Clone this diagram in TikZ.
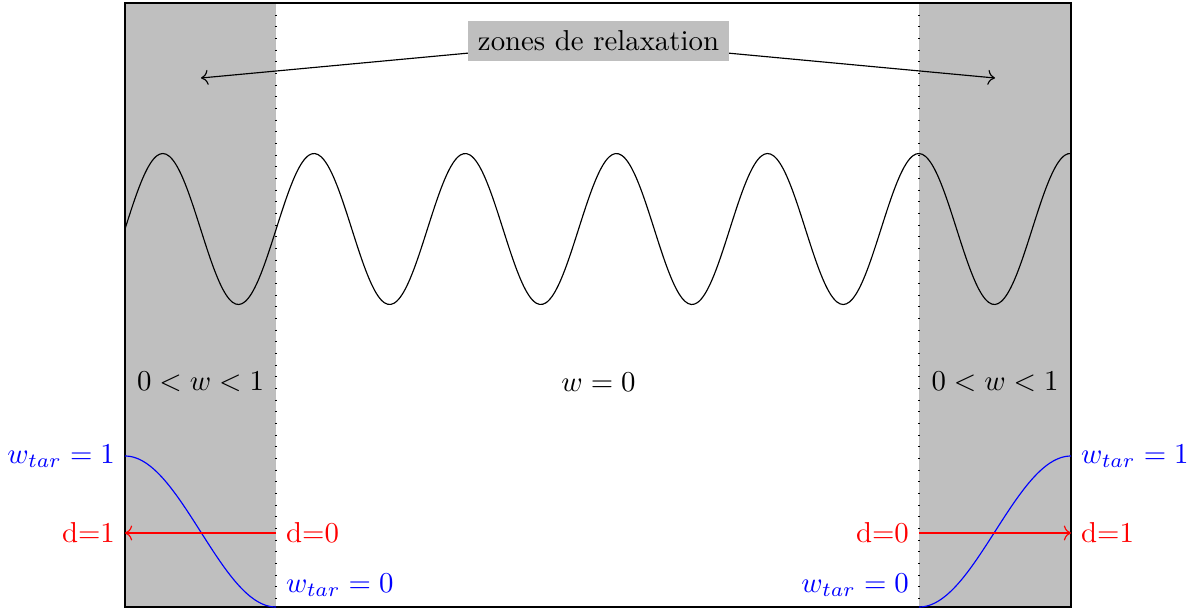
\documentclass[tikz,border=0pt]{standalone}
\usepackage{xcolor}
\usepackage{tikz}
\usetikzlibrary{arrows.meta, positioning}

\begin{document}
\begin{tikzpicture}[
    x=0.3472pt, y=-0.3472pt,
    zone/.style={fill=lightgray},
    limit/.style={dash pattern=on 0.4pt off 3.65pt},
    arr/.style={->},
    tag/.style={fill=lightgray},
]
\useasboundingbox (0,0) rectangle (1196,613);

\fill[zone] (125,3) rectangle (276,607);
\fill[zone] (919,3) rectangle (1071,607);
\draw[limit] (276,3) -- (276,607);
\draw[limit] (919,3) -- (919,607);

\draw plot[domain=125:1071, samples=300, smooth] (\x, {229 - 75.5*sin((\x-125)/151.2*360)});

\draw (125,3) rectangle (1071,607);

\node[tag] (relax) at (598.5,41) {zones de relaxation};
\coordinate (zleft) at (201,78);
\coordinate (zright) at (995,78);
\draw[arr] (relax) -- (zleft);
\draw[arr] (relax) -- (zright);

\node (wleft) at (200.5,382) {$0<w<1$};
\node (wmid) at (598.5,382) {$w=0$};
\node (wright) at (995,382) {$0<w<1$};

\draw[blue] plot[domain=125:276, samples=80, smooth] (\x, {456 + 75.5*(1-cos((\x-125)/151*180))});
\draw[blue] plot[domain=919:1071, samples=80, smooth] (\x, {607 - 75.5*(1-cos((\x-919)/152*180))});

\node[blue, anchor=east] (tarleftone) at (125,456) {$w_{tar}=1$};
\node[blue, anchor=south west] (tarleftzero) at (276,607) {$w_{tar}=0$};
\node[blue, anchor=west] (tarrightone) at (1071,456) {$w_{tar}=1$};
\node[blue, anchor=south east] (tarrightzero) at (919,607) {$w_{tar}=0$};

\coordinate (dleftzero) at (276,533);
\coordinate (dleftone) at (125,533);
\coordinate (drightzero) at (919,533);
\coordinate (drightone) at (1071,533);
\draw[red, arr] (dleftzero) -- (dleftone);
\draw[red, arr] (drightzero) -- (drightone);
\node[red, anchor=west] (dlz) at (dleftzero) {d=0};
\node[red, anchor=east] (dlo) at (dleftone) {d=1};
\node[red, anchor=east] (drz) at (drightzero) {d=0};
\node[red, anchor=west] (dro) at (drightone) {d=1};

\end{tikzpicture}
\end{document}
